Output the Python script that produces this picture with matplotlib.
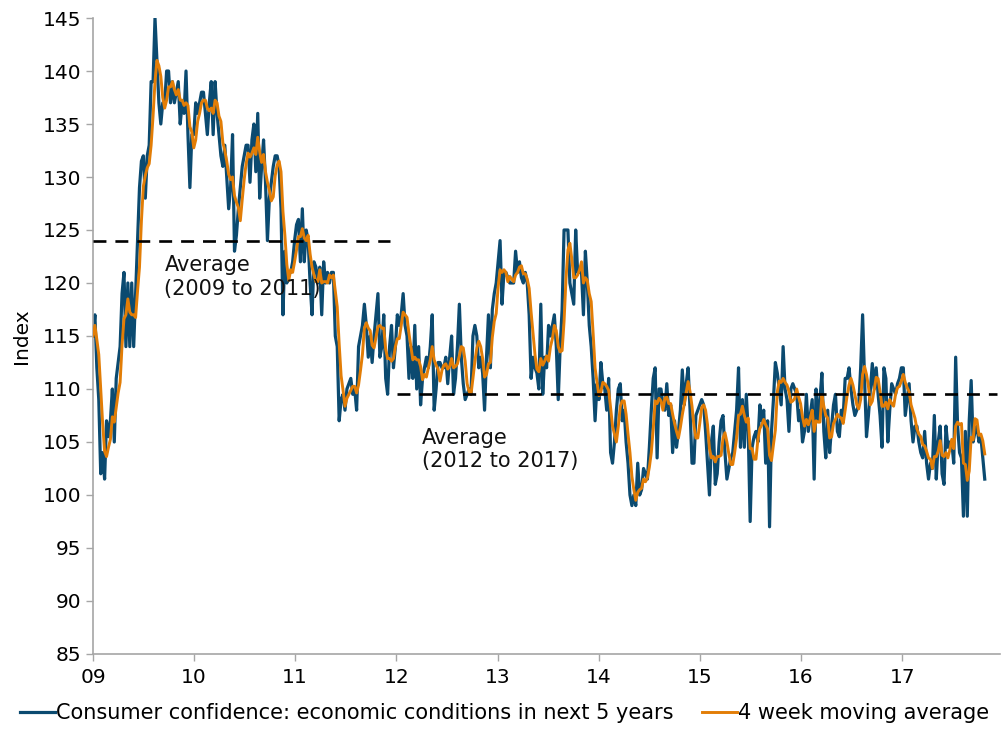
import numpy as np
import pandas as pd
import matplotlib
matplotlib.use("Agg")
import matplotlib.pyplot as plt
import matplotlib.dates as mdates

# weekly index values, one list per year
y2009 = [115, 117, 112, 109, 102, 104, 101.5, 107, 105.5, 107, 110, 105, 111, 112.5, 114, 119, 121, 114,
         120, 114, 120, 114, 119, 124, 129, 131.5, 132, 128, 132, 133, 139, 139, 145, 141, 137, 135, 137,
         137, 140, 140, 137, 139, 137, 138, 139, 135, 137, 136, 140, 134, 129, 134]
y2010 = [134, 137, 136, 137, 138, 138, 136, 134, 137, 139, 134, 139, 136, 134, 132, 131, 133, 130, 127,
         129, 134, 123, 124.5, 127, 129, 131, 132, 133, 133, 129.5, 133.5, 135, 130.5, 136, 128, 131, 133.5,
         129.5, 124, 128, 129.5, 131, 132, 132, 131, 127, 117, 123, 120, 121, 121, 122]
y2011 = [124, 125.5, 126, 122, 127, 122, 125, 124, 120, 117, 122, 121.5, 120, 121.5, 117, 122, 120, 121,
         120, 121, 121, 115, 114, 107, 109, 109.5, 108, 110, 110.5, 111, 109.5, 110, 108, 114, 115, 116,
         118, 116, 113, 115, 112.5, 115, 117, 119, 113, 114, 117, 111, 109.5, 114, 116, 112]
y2012 = [114, 117, 116, 117, 119, 116, 115, 111, 114, 111, 116, 110, 114, 108.5, 111, 112, 113, 112, 114,
         117, 108, 110, 112.5, 112.5, 112, 112, 113, 110.5, 113, 115, 109.5, 111, 114, 118, 113, 110.5, 109,
         109.5, 110, 109.5, 115, 116, 115, 112, 113, 111.5, 108, 113, 117, 112, 117.5, 119]
y2013 = [120, 122, 124, 118, 121, 121, 120.5, 120, 120, 120, 123, 121, 122, 120.5, 120, 121, 120, 117, 111,
         113, 112, 111.5, 110, 118, 109.5, 113, 112, 116, 115, 116, 117, 114, 109, 114, 117.5, 125, 125,
         125, 120, 119, 118, 125, 121, 121, 121, 117, 123, 120, 116, 114, 111, 107]
y2014 = [110.5, 109, 112.5, 110.5, 110, 108, 111, 104, 103, 105, 108, 110, 110.5, 107, 108, 105, 103, 100,
         99, 100, 99, 103, 100, 100.5, 102.5, 102, 101.5, 104.5, 108, 111, 112, 103.5, 110, 110, 108.5, 108,
         110.5, 107.5, 108.5, 104, 107, 104.5, 106, 108, 111.8, 108.5, 110.5, 112, 108, 103, 103, 107.5]
y2015 = [108, 108.5, 109, 108.5, 106, 103, 100, 105, 106.5, 101, 102, 105, 107, 107.5, 104, 101.5, 102.5,
         103.5, 104, 106, 108, 112, 104.5, 109, 104.5, 109.5, 106, 97.5, 104.5, 105.5, 106, 105, 108.5, 107,
         108, 103, 107, 97, 106, 109, 112.5, 111.5, 110, 108.5, 114, 110, 109, 106, 110, 110.5, 110, 109.5]
y2016 = [107, 108, 105, 106, 109.5, 106, 107.5, 109, 101.5, 110, 107, 109, 111.5, 106, 103.5, 108, 104,
         106.5, 108.5, 109.5, 106, 105.5, 108, 107.5, 111, 111, 112, 110, 108.5, 107.5, 108, 108.5, 112, 117,
         111, 105.5, 107.5, 110, 112.4, 110, 112, 109.5, 107.5, 104.5, 112, 111, 105, 108, 110.5, 110, 109.5,
         110.5]
y2017 = [111, 112, 112, 107.5, 109, 110.5, 107, 105, 106.5, 106.5, 105, 104, 103.5, 106, 103, 101.5, 103,
         102.5, 107.5, 101.5, 105, 106.5, 102, 101, 106.5, 104.5, 105, 105, 103, 113, 106.5, 104, 103.5, 98,
         106, 98, 107, 110.8, 105, 106, 106.5, 105, 105.5, 103.5, 101.5]

avg_early = 124.0   # average 2009 to 2011
avg_late = 109.5    # average 2012 to 2017

values = y2009 + y2010 + y2011 + y2012 + y2013 + y2014 + y2015 + y2016 + y2017
dates = pd.date_range("2009-01-01", periods=len(values), freq="7D")
s = pd.Series(values, index=dates)
ma = s.rolling(4, min_periods=1).mean()

blue = "#0B4A70"
orange = "#E27D06"

fig = plt.figure(figsize=(10.05, 7.29), dpi=100)
ax = fig.add_axes([0.0925, 0.1029, 0.9025, 0.8724])

ax.plot(s.index, s.values, color=blue, lw=2.3, solid_joinstyle="round",
        label="Consumer confidence: economic conditions in next 5 years", zorder=2)
ax.plot(ma.index, ma.values, color=orange, lw=2.1, solid_joinstyle="round",
        label="4 week moving average", zorder=3)

ax.plot([pd.Timestamp("2009-01-01"), pd.Timestamp("2011-12-08")], [avg_early, avg_early],
        color="black", lw=1.9, dashes=(4.9, 3.4), zorder=4)
ax.plot([pd.Timestamp("2012-01-05"), pd.Timestamp("2017-12-10")], [avg_late, avg_late],
        color="black", lw=1.9, dashes=(4.9, 3.4), zorder=4)

ax.text(pd.Timestamp("2009-09-16"), 122.6, "Average\n(2009 to 2011)", fontsize=15,
        va="top", ha="left", color="#111111")
ax.text(pd.Timestamp("2012-04-03"), 106.3, "Average\n(2012 to 2017)", fontsize=15,
        va="top", ha="left", color="#111111")

ax.set_ylim(85, 145)
ax.set_yticks(np.arange(85, 146, 5))
ax.set_xlim(pd.Timestamp("2009-01-01"), pd.Timestamp("2017-12-20"))
ax.xaxis.set_major_locator(mdates.YearLocator())
ax.xaxis.set_major_formatter(mdates.DateFormatter("%y"))

ax.set_ylabel("Index", fontsize=14.5, labelpad=8)
ax.tick_params(axis="both", labelsize=14.5, color="#A6A6A6", length=5, width=1)
ax.tick_params(axis="x", pad=5)

for side in ["top", "right"]:
    ax.spines[side].set_visible(False)
for side in ["left", "bottom"]:
    ax.spines[side].set_color("#A6A6A6")
    ax.spines[side].set_linewidth(1.2)

fig.legend(loc="center", bbox_to_anchor=(0.502, 0.022), ncol=2, frameon=False, fontsize=15,
           handlelength=1.7, handletextpad=0.05, columnspacing=1.35)

fig.savefig("out.png", dpi=100)
